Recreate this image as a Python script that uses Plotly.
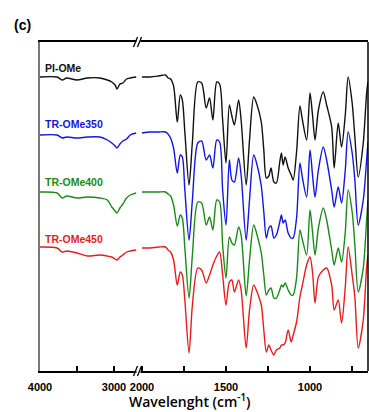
import plotly.graph_objects as go

# ---- data (stacked FTIR spectra, a.u.; y axis reversed, offsets baked in) ----
wn_left = [4000, 3770, 3700, 3640, 3500, 3360, 3190, 3090, 3030, 2985, 2960, 2920, 2880, 2830, 2780, 2700]
pi_ome_left = [77, 77, 80, 78, 80, 78, 78, 80, 82, 85, 89, 84, 83, 79, 78, 77]
tr350_left = [135, 135, 138, 137, 138, 137, 137, 140, 143, 146, 148, 144, 141, 139, 135, 133]
tr400_left = [192, 193, 198, 196, 198, 197, 198, 200, 207, 211, 213, 208, 204, 198, 195, 193]
tr450_left = [247, 248, 252, 251, 253, 256, 255, 256, 257, 259, 260, 257, 255, 252, 251, 250]

wn_right = [2000, 1950, 1900, 1860, 1845, 1830, 1812, 1790, 1772, 1760, 1745, 1720, 1700, 1668, 1645,
            1618, 1598, 1578, 1555, 1538, 1520, 1500, 1480, 1465, 1450, 1425, 1410, 1380, 1360, 1335,
            1315, 1290, 1275, 1260, 1245, 1232, 1215, 1200, 1180, 1170, 1160, 1148, 1130, 1112, 1100,
            1080, 1060, 1045, 1020, 1000, 985, 970, 950, 921, 901, 871, 856, 832, 812, 790,
            773, 749, 733, 713, 683, 663, 655]
pi_ome_right = [77, 77, 76, 75, 78, 79, 86, 122, 95, 100, 132, 185, 142, 82, 83,
                108, 98, 120, 82, 84, 120, 163, 105, 116, 125, 100, 120, 185, 140, 97,
                105, 122, 150, 178, 176, 168, 182, 183, 162, 153, 165, 157, 168, 175, 180,
                152, 106, 120, 140, 93, 115, 140, 110, 92, 105, 127, 168, 123, 147, 115,
                77, 103, 137, 177, 143, 93, 82]
tr350_right = [133, 132, 132, 132, 134, 138, 148, 173, 155, 157, 190, 240, 200, 143, 141,
               160, 155, 168, 140, 142, 190, 225, 160, 180, 182, 158, 175, 240, 200, 155,
               165, 186, 212, 238, 228, 226, 238, 235, 222, 215, 223, 220, 233, 238, 238,
               218, 163, 178, 197, 150, 175, 197, 170, 147, 160, 190, 207, 187, 203, 170,
               132, 153, 180, 225, 200, 160, 142]
tr400_right = [192, 192, 192, 192, 194, 196, 205, 226, 215, 218, 248, 298, 255, 202, 203,
               225, 217, 230, 200, 202, 245, 278, 237, 243, 245, 227, 235, 296, 260, 225,
               235, 253, 275, 295, 290, 288, 298, 298, 290, 285, 287, 283, 290, 295, 295,
               278, 230, 240, 255, 210, 232, 255, 228, 208, 220, 250, 265, 248, 262, 232,
               190, 212, 245, 292, 268, 220, 200]
tr450_right = [248, 248, 247, 247, 250, 252, 260, 285, 272, 275, 300, 353, 305, 268, 270,
               283, 275, 265, 256, 252, 275, 305, 282, 280, 292, 280, 290, 348, 310, 285,
               292, 305, 330, 352, 345, 350, 355, 350, 348, 345, 345, 343, 330, 342, 335,
               322, 297, 285, 265, 257, 272, 303, 277, 270, 268, 285, 310, 300, 323, 287,
               247, 275, 297, 348, 320, 267, 255]

series_names = ["PI-OMe", "TR-OMe350", "TR-OMe400", "TR-OMe450"]
series_colors = ["#111111", "#1414e6", "#1a8a1a", "#e81c1c"]
label_pos = [68, 124, 182, 239]

left_data = [pi_ome_left, tr350_left, tr400_left, tr450_left]
right_data = [pi_ome_right, tr350_right, tr400_right, tr450_right]

left_ticks = [4000, 3000]
left_minor = [3500]
right_ticks = [2000, 1500, 1000]
right_minor = [1750, 1250, 750]

# ---- figure ----
W, H = 369, 412
ML, MR, MT, MB = 40, 1, 42, 41
pw = W - ML - MR
ph = H - MT - MB
split = 99 / pw

fig = go.Figure()
for name, col, ld, rd in zip(series_names, series_colors, left_data, right_data):
    fig.add_trace(go.Scatter(x=wn_left, y=ld, mode="lines", xaxis="x", yaxis="y",
                             line=dict(color=col, width=1.4, shape="spline", smoothing=0.8),
                             name=name, showlegend=False, hoverinfo="skip"))
    fig.add_trace(go.Scatter(x=wn_right, y=rd, mode="lines", xaxis="x2", yaxis="y",
                             line=dict(color=col, width=1.4, shape="spline", smoothing=0.8),
                             name=name, showlegend=False, hoverinfo="skip"))

tickfont = dict(family="Liberation Sans", size=11, color="black", weight="bold")
common_x = dict(showgrid=False, zeroline=False, showline=True, linecolor="black", linewidth=1.5,
                mirror=True, ticks="inside", ticklen=5, tickwidth=1.5, tickcolor="black",
                tickfont=tickfont, ticklabelstandoff=5, tickmode="array")
fig.update_layout(
    width=W, height=H,
    margin=dict(l=ML, r=MR, t=MT, b=MB),
    paper_bgcolor="white", plot_bgcolor="white",
    xaxis=dict(domain=[0, split], range=[4000, 4000 - 99 / 0.074], anchor="y",
               tickvals=left_ticks, ticktext=[str(v) for v in left_ticks],
               minor=dict(tickmode="array", tickvals=left_minor, ticks="inside", ticklen=5,
                          tickwidth=1.5, tickcolor="black", showgrid=False),
               **common_x),
    xaxis2=dict(domain=[split, 1], range=[2000 + 3 / 0.168, 2000 - (pw - 102) / 0.168], anchor="y",
                tickvals=right_ticks, ticktext=[str(v) for v in right_ticks],
                minor=dict(tickmode="array", tickvals=right_minor, ticks="inside", ticklen=5,
                           tickwidth=1.5, tickcolor="black", showgrid=False),
                **common_x),
    yaxis=dict(range=[371, 42], showgrid=False, zeroline=False, showticklabels=False,
               showline=True, linecolor="#777777", linewidth=2, ticks="", anchor="x"),
)

def px(x):
    return (x - ML) / pw

def py(y):
    return (MT + ph - y) / ph

shapes = []
# right border
shapes.append(dict(type="line", xref="paper", yref="paper", x0=1, x1=1, y0=0, y1=1,
                   line=dict(color="black", width=1.5)))
# axis breaks (top and bottom)
for yb in (42, 371):
    shapes.append(dict(type="rect", xref="paper", yref="paper", x0=px(136.5), x1=px(140.5),
                       y0=py(yb + 2), y1=py(yb - 2), fillcolor="white", line=dict(width=0)))
    for xs in (133.5, 137.5):
        shapes.append(dict(type="line", xref="paper", yref="paper", x0=px(xs), x1=px(xs + 4),
                           y0=py(yb + 5), y1=py(yb - 5), line=dict(color="black", width=1.3)))
fig.update_layout(shapes=shapes)

ann = []
for name, col, yl in zip(series_names, series_colors, label_pos):
    ann.append(dict(text=name, xref="paper", yref="y", x=px(43), y=yl, xanchor="left", yanchor="middle",
                    showarrow=False, font=dict(family="Liberation Sans", size=10.5, color=col, weight="bold")))
ann.append(dict(text="Wavelenght (cm<sup>-1</sup>)", xref="paper", yref="paper", x=px(190), y=py(401),
                xanchor="center", yanchor="middle", showarrow=False,
                font=dict(family="Open Sans", size=14, color="black", weight=600)))
ann.append(dict(text="(c)", xref="paper", yref="paper", x=px(12), y=py(25), xanchor="left", yanchor="middle",
                showarrow=False, font=dict(family="Liberation Sans", size=14, color="black", weight="bold")))
fig.update_layout(annotations=ann)

fig.write_html("out.html")
